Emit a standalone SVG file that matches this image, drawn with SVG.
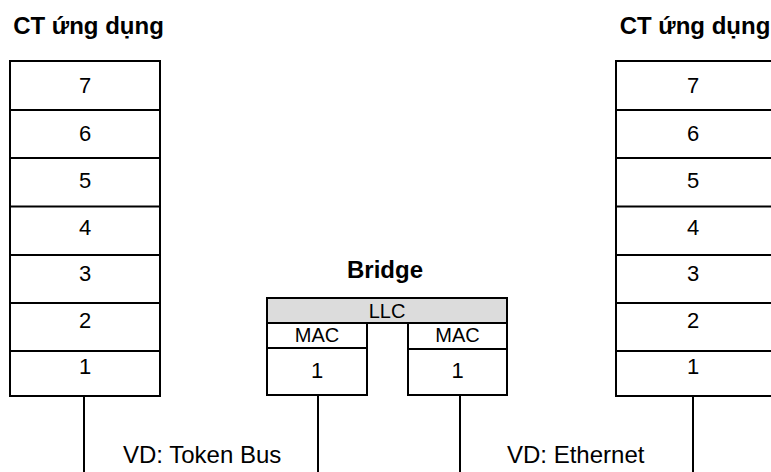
<svg xmlns="http://www.w3.org/2000/svg" width="771" height="472" viewBox="0 0 771 472">
<style>
.box{fill:#fff;stroke:#000;stroke-width:2}
.llc{fill:#dcdcdc;stroke:#000;stroke-width:2}
.sep{stroke:#000;stroke-width:2}
.ln{stroke:#000;stroke-width:2;fill:none}
.t{font-family:"Liberation Sans",Arial,sans-serif;font-size:20px;fill:#000;text-anchor:middle}
.d{font-family:"Liberation Sans",Arial,sans-serif;font-size:22px;fill:#000;text-anchor:middle}
.tb{font-family:"Liberation Sans",Arial,sans-serif;font-size:24px;font-weight:bold;fill:#000;text-anchor:middle}
.lab{font-family:"Liberation Sans",Arial,sans-serif;font-size:24px;fill:#000}
</style>
<rect width="771" height="472" fill="#fff"/>
<g id="stack-left">
<text class="tb" x="88.5" y="34">CT ứng dụng</text>
<rect class="box" x="10" y="61" width="150" height="335"/>
<line class="sep" x1="10" y1="110" x2="160" y2="110"/>
<line class="sep" x1="10" y1="158" x2="160" y2="158"/>
<line class="sep" x1="10" y1="206.5" x2="160" y2="206.5"/>
<line class="sep" x1="10" y1="255" x2="160" y2="255"/>
<line class="sep" x1="10" y1="303" x2="160" y2="303"/>
<line class="sep" x1="10" y1="351" x2="160" y2="351"/>
<text class="d" x="85" y="93">7</text>
<text class="d" x="85" y="140.5">6</text>
<text class="d" x="85" y="188">5</text>
<text class="d" x="85" y="235">4</text>
<text class="d" x="85" y="281">3</text>
<text class="d" x="85" y="328">2</text>
<text class="d" x="85" y="374">1</text>
</g>
<g id="stack-right">
<text class="tb" x="695" y="34">CT ứng dụng</text>
<rect class="box" x="616" y="61" width="160" height="335"/>
<line class="sep" x1="616" y1="110" x2="776" y2="110"/>
<line class="sep" x1="616" y1="158" x2="776" y2="158"/>
<line class="sep" x1="616" y1="206.5" x2="776" y2="206.5"/>
<line class="sep" x1="616" y1="255" x2="776" y2="255"/>
<line class="sep" x1="616" y1="303" x2="776" y2="303"/>
<line class="sep" x1="616" y1="351" x2="776" y2="351"/>
<text class="d" x="693" y="93">7</text>
<text class="d" x="693" y="140.5">6</text>
<text class="d" x="693" y="188">5</text>
<text class="d" x="693" y="235">4</text>
<text class="d" x="693" y="281">3</text>
<text class="d" x="693" y="328">2</text>
<text class="d" x="693" y="374">1</text>
</g>
<g id="bridge">
<text class="tb" x="385" y="278">Bridge</text>
<rect class="llc" x="267" y="298" width="240" height="25"/>
<text class="t" x="387" y="318">LLC</text>
<rect class="box" x="267" y="323" width="100" height="72"/>
<line class="sep" x1="267" y1="348" x2="367" y2="348"/>
<text class="t" x="317" y="341.5">MAC</text>
<text class="d" x="317" y="377.5">1</text>
<rect class="box" x="408" y="323" width="99" height="72"/>
<line class="sep" x1="408" y1="349" x2="507" y2="349"/>
<text class="t" x="457.5" y="341.5">MAC</text>
<text class="d" x="457.5" y="377.5">1</text>
</g>
<g id="connectors">
<line class="ln" x1="84" y1="396" x2="84" y2="472"/>
<line class="ln" x1="318" y1="395" x2="318" y2="472"/>
<line class="ln" x1="460" y1="395" x2="460" y2="472"/>
<line class="ln" x1="693" y1="396" x2="693" y2="472"/>
</g>
<g id="labels">
<text class="lab" x="123" y="463">VD: Token Bus</text>
<text class="lab" x="507" y="463">VD: Ethernet</text>
</g>
</svg>
